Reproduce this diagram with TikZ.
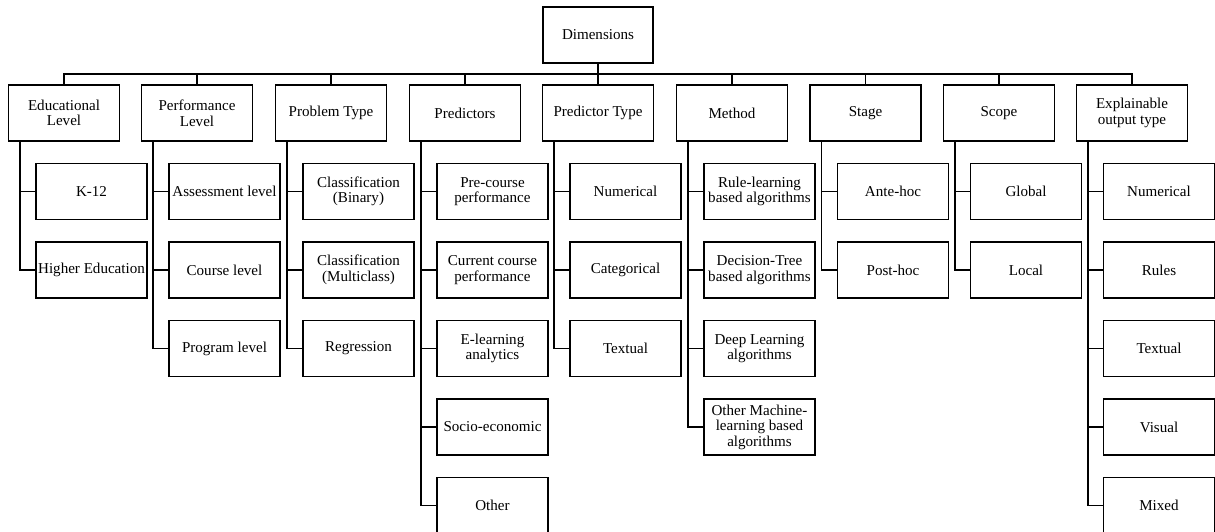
\documentclass[tikz,border=0pt]{standalone}
\usepackage{fontspec}
\setmainfont{Liberation Serif}
\begin{document}
\begin{tikzpicture}[x=0.75pt,y=-0.75pt,
  box/.style={draw, line width=1pt, minimum width=83.25pt, minimum height=42pt, inner sep=1pt, align=center, font=\fontsize{11.3}{11.7}\selectfont},
  link/.style={line width=1pt}]
\clip (0,0) rectangle (1215,532);
% root
\node[box, minimum width=82.5pt] (dim) at (598,35) {Dimensions};
\coordinate (bus) at (598,74);
% level 1
\node[box] (edu)  at (64,113)   {Educational\\Level};
\node[box] (perf) at (197,113)  {Performance\\Level};
\node[box] (prob) at (331,113)  {Problem Type};
\node[box] (pred) at (465,113)  {Predictors};
\node[box] (ptyp) at (598,113)  {Predictor Type};
\node[box] (meth) at (732,113)  {Method};
\node[box] (stag) at (865.5,113){Stage};
\node[box] (scop) at (999,113)  {Scope};
\node[box] (expl) at (1132,113) {Explainable\\output type};
% bus
\draw[link] (dim.south) -- (bus);
\foreach \n in {edu,perf,prob,pred,ptyp,meth,stag,scop,expl}
  \draw[link] (\n.north) |- (bus);
% children
\node[box] (edu1) at (91.5,191.5) {K-12};
\node[box] (edu2) at (91.5,270)   {Higher Education};
\node[box] (perf1) at (224.5,191.5) {Assessment level};
\node[box] (perf2) at (224.5,270)   {Course level};
\node[box] (perf3) at (224.5,348.5) {Program level};
\node[box] (prob1) at (358.5,191.5) {Classification\\(Binary)};
\node[box] (prob2) at (358.5,270)   {Classification\\(Multiclass)};
\node[box] (prob3) at (358.5,348.5) {Regression};
\node[box] (pred1) at (492.5,191.5) {Pre-course\\performance};
\node[box] (pred2) at (492.5,270)   {Current course\\performance};
\node[box] (pred3) at (492.5,348.5) {E-learning\\analytics};
\node[box] (pred4) at (492.5,427)   {Socio-economic};
\node[box] (pred5) at (492.5,505.5) {Other};
\node[box] (ptyp1) at (625.5,191.5) {Numerical};
\node[box] (ptyp2) at (625.5,270)   {Categorical};
\node[box] (ptyp3) at (625.5,348.5) {Textual};
\node[box] (meth1) at (759.5,191.5) {Rule-learning\\based algorithms};
\node[box] (meth2) at (759.5,270)   {Decision-Tree\\based algorithms};
\node[box] (meth3) at (759.5,348.5) {Deep Learning\\algorithms};
\node[box] (meth4) at (759.5,427)   {Other Machine-\\learning based\\algorithms};
\node[box] (stag1) at (893,191.5) {Ante-hoc};
\node[box] (stag2) at (893,270)   {Post-hoc};
\node[box] (scop1) at (1026,191.5) {Global};
\node[box] (scop2) at (1026,270)   {Local};
\node[box] (expl1) at (1159,191.5) {Numerical};
\node[box] (expl2) at (1159,270)   {Rules};
\node[box] (expl3) at (1159,348.5) {Textual};
\node[box] (expl4) at (1159,427)   {Visual};
\node[box] (expl5) at (1159,505.5) {Mixed};
% connectors
\foreach \p/\k in {edu/2,perf/3,prob/3,pred/5,ptyp/3,meth/4,stag/2,scop/2,expl/5}
  \foreach \i in {1,...,\k}
    \draw[link] ([xshift=9pt]\p.south west) |- (\p\i.west);
\end{tikzpicture}
\end{document}
